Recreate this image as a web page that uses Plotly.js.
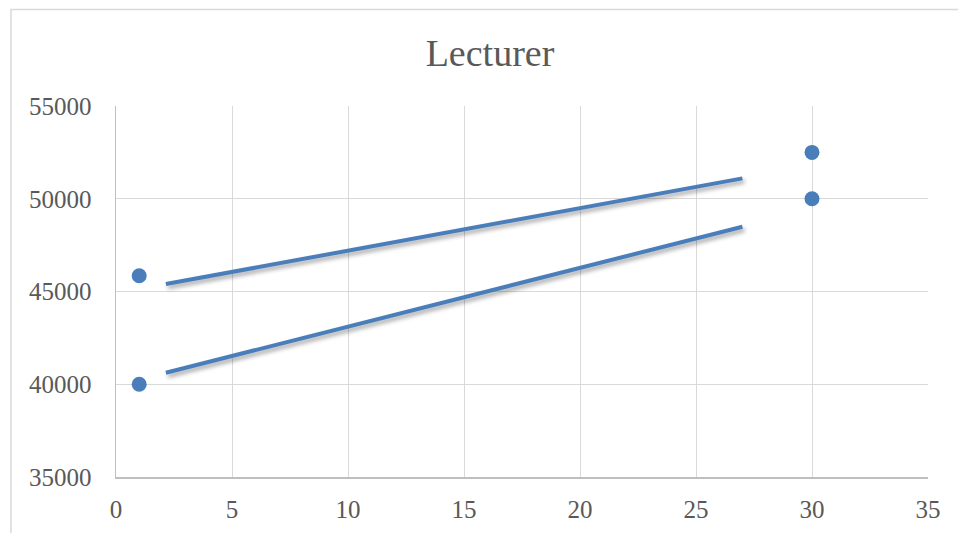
<!DOCTYPE html>
<html>
<head>
<meta charset="utf-8">
<script src="https://cdn.plot.ly/plotly-3.0.1.min.js"></script>
<style>
  html, body { margin: 0; padding: 0; background: #fff; }
  #chart { width: 958px; height: 533px; }
  .scatterlayer .js-line { filter: drop-shadow(2px 3px 2px rgba(0,0,0,0.35)); }
</style>
</head>
<body>
<div id="chart"></div>
<script>
// Scatter points
const pointX = [1, 1, 30, 30];
const pointY = [45850, 40000, 52500, 50000];
// Upper line segment
const upperX = [2.15, 27];
const upperY = [45400, 51100];
// Lower line segment
const lowerX = [2.15, 27];
const lowerY = [40620, 48490];

const titleText = 'Lecturer';
const xTicks = [0, 5, 10, 15, 20, 25, 30, 35];
const yTicks = [35000, 40000, 45000, 50000, 55000];

const blue = '#4a7ebb';
const textGray = '#595959';
const fontFam = '"Liberation Serif", "DejaVu Serif", serif';

const traces = [
  { x: upperX, y: upperY, mode: 'lines', line: { color: blue, width: 4 }, hoverinfo: 'skip', showlegend: false },
  { x: lowerX, y: lowerY, mode: 'lines', line: { color: blue, width: 4 }, hoverinfo: 'skip', showlegend: false },
  { x: pointX, y: pointY, mode: 'markers', marker: { color: blue, size: 15 }, showlegend: false }
];

const layout = {
  width: 958,
  height: 533,
  margin: { l: 116, r: 30, t: 106, b: 56 },
  paper_bgcolor: '#ffffff',
  plot_bgcolor: '#ffffff',
  font: { family: fontFam, color: textGray, size: 25 },
  title: {
    text: titleText,
    font: { family: fontFam, size: 38, color: textGray },
    x: 490 / 958, xref: 'container', xanchor: 'center',
    y: 1 - 53 / 533, yref: 'container', yanchor: 'middle'
  },
  xaxis: {
    range: [0, 35],
    tickvals: xTicks,
    ticktext: xTicks.map(String),
    showgrid: true,
    gridcolor: '#d9d9d9',
    gridwidth: 1,
    zeroline: false,
    showline: true,
    linecolor: '#bfbfbf',
    linewidth: 1.5,
    ticks: '',
    ticklabelstandoff: 9,
    tickfont: { family: fontFam, size: 25, color: textGray },
    fixedrange: true
  },
  yaxis: {
    range: [35000, 55000],
    tickvals: yTicks,
    ticktext: yTicks.map(String),
    showgrid: true,
    gridcolor: '#d9d9d9',
    gridwidth: 1,
    zeroline: false,
    showline: true,
    linecolor: '#bfbfbf',
    linewidth: 1.5,
    ticks: '',
    ticklabelstandoff: 18,
    tickfont: { family: fontFam, size: 25, color: textGray },
    fixedrange: true
  },
  shapes: [
    {
      type: 'rect', xref: 'paper', yref: 'paper',
      x0: (11 - 116) / 812, x1: (975 - 116) / 812,
      y0: -(545 - 477) / 371, y1: 1 + (106 - 9.5) / 371,
      line: { color: '#d9d9d9', width: 1.5 },
      fillcolor: 'rgba(0,0,0,0)',
      layer: 'below'
    }
  ]
};

Plotly.newPlot('chart', traces, layout, { displayModeBar: false, staticPlot: true });
</script>
</body>
</html>
